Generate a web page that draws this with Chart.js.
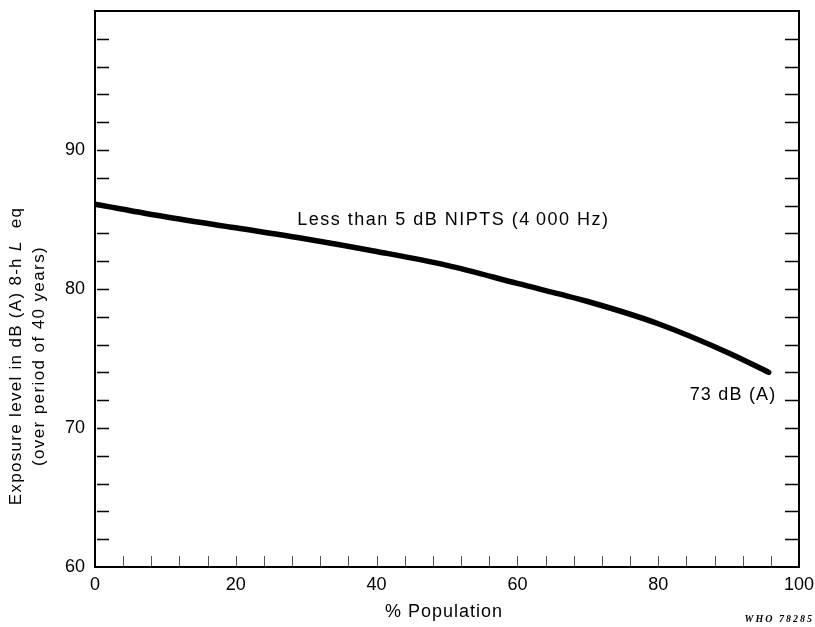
<!DOCTYPE html>
<html lang="en">
<head>
    <title>Exposure level vs % population</title>
    <meta charset="UTF-8">
    <script src="https://cdn.jsdelivr.net/npm/chart.js@4.4.1/dist/chart.umd.min.js"></script>
    <style>
        body {margin:0;padding:0;background:#fff;}
        #wrap {width:815px;height:627px;}
    </style>
</head>
<body>
<div id="wrap"><canvas id="nipts"></canvas></div>
<script>
    // values
    const population = [0, 10, 20, 30, 40, 50, 60, 70, 80, 90, 95.7];
    const exposure   = [86.1, 85.2, 84.4, 83.6, 82.7, 81.7, 80.4, 79.1, 77.5, 75.4, 74.0];
    const yTicks = [60, 70, 80, 90];
    const xTicks = [0, 20, 40, 60, 80, 100];
    const curveLabel = 'Less than 5 dB NIPTS (4\u2009000 Hz)';
    const endLabel = '73 dB (A)';

    const font = '"Liberation Sans", Arial, Helvetica, sans-serif';

    // frame, inward ticks and the text printed on the figure
    const figurePlugin = {
        id: 'figure',
        afterDraw(chart) {
            const ctx = chart.ctx;
            const a = chart.chartArea;
            const xs = chart.scales.x, ys = chart.scales.y;
            ctx.save();
            ctx.strokeStyle = '#000';
            ctx.lineWidth = 2;
            ctx.strokeRect(a.left, a.top, a.right - a.left, a.bottom - a.top);

            // y minor ticks every 2 dB, both sides
            ctx.lineWidth = 1.3;
            for (let v = 62; v < 100; v += 2) {
                const y = Math.round(ys.getPixelForValue(v)) + 0.5;
                ctx.beginPath();
                ctx.moveTo(a.left + 2, y); ctx.lineTo(a.left + 14, y);
                ctx.moveTo(a.right - 14, y); ctx.lineTo(a.right - 1, y);
                ctx.stroke();
            }
            // x minor ticks every 4 %
            ctx.strokeStyle = '#555';
            ctx.lineWidth = 1;
            for (let v = 4; v < 100; v += 4) {
                const x = Math.round(xs.getPixelForValue(v)) + 0.5;
                ctx.beginPath();
                ctx.moveTo(x, a.bottom - 1); ctx.lineTo(x, a.bottom - 11);
                ctx.stroke();
            }

            ctx.fillStyle = '#000';
            ctx.letterSpacing = '1.5px';
            ctx.font = '18px ' + font;
            ctx.textBaseline = 'middle';
            ctx.textAlign = 'center';
            ctx.fillText(curveLabel, xs.getPixelForValue(50.9), ys.getPixelForValue(84.95));
            ctx.letterSpacing = '1.2px';
            ctx.textAlign = 'right';
            ctx.fillText(endLabel, xs.getPixelForValue(96.8), ys.getPixelForValue(72.4));

            // x title
            ctx.letterSpacing = '1px';
            ctx.textAlign = 'center';
            ctx.fillText('% Population', 444, 612);

            // y title, rotated, with italic L
            ctx.save();
            ctx.translate(16, 356);
            ctx.rotate(-Math.PI / 2);
            ctx.letterSpacing = '1.3px';
            const parts = [
                ['Exposure level in dB (A) 8-h ', '17px ' + font],
                ['L', 'italic 17px ' + font],
                ['  eq', '17px ' + font]
            ];
            let total = 0;
            parts.forEach(p => { ctx.font = p[1]; total += ctx.measureText(p[0]).width; });
            let px = -total / 2;
            ctx.textAlign = 'left';
            parts.forEach(p => {
                ctx.font = p[1];
                ctx.fillText(p[0], px, 0);
                px += ctx.measureText(p[0]).width;
            });
            ctx.font = '17px ' + font;
            ctx.letterSpacing = '1.4px';
            ctx.textAlign = 'center';
            ctx.fillText('(over period of 40 years)', 0, 23);
            ctx.restore();

            // figure stamp
            ctx.letterSpacing = '2px';
            ctx.font = 'italic bold 10px "Liberation Serif", "DejaVu Serif", serif';
            ctx.textAlign = 'right';
            ctx.textBaseline = 'alphabetic';
            ctx.fillText('WHO 78285', 814, 622);
            ctx.restore();
        }
    };

    const ctx = document.getElementById('nipts');
    const chart = new Chart(ctx, {
        type: 'line',
        data: {
            datasets: [{
                data: population.map((p, i) => ({x: p, y: exposure[i]})),
                borderColor: '#000',
                borderWidth: 5.5,
                borderCapStyle: 'round',
                pointRadius: 0,
                cubicInterpolationMode: 'monotone',
                fill: false
            }]
        },
        options: {
            responsive: true,
            maintainAspectRatio: false,
            animation: false,
            layout: {padding: {top: 11, right: 16, left: 0, bottom: 0}},
            plugins: {legend: {display: false}, tooltip: {enabled: false}},
            scales: {
                x: {
                    type: 'linear', min: 0, max: 100,
                    afterBuildTicks: (s) => { s.ticks = xTicks.map(v => ({value: v})); },
                    grid: {display: false, drawTicks: false},
                    border: {display: false},
                    ticks: {color: '#000', font: {family: font, size: 18}, padding: 7, maxRotation: 0},
                    afterFit: (s) => { s.height = 60; s.paddingLeft = 0; s.paddingRight = 0; }
                },
                y: {
                    type: 'linear', min: 60, max: 100,
                    afterBuildTicks: (s) => { s.ticks = yTicks.map(v => ({value: v})); },
                    grid: {display: false, drawTicks: false},
                    border: {display: false},
                    ticks: {color: '#000', font: {family: font, size: 18}, padding: 10},
                    afterFit: (s) => { s.width = 95; s.paddingTop = 0; s.paddingBottom = 0; }
                }
            }
        },
        plugins: [figurePlugin]
    });
</script>
</body>
</html>
